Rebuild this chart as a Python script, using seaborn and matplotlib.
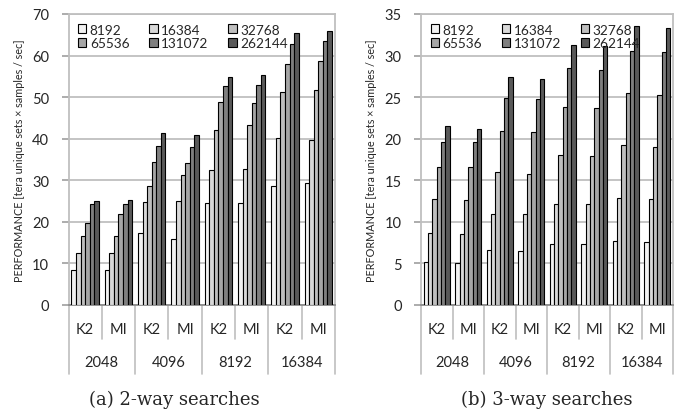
import pandas as pd
import numpy as np
import matplotlib
matplotlib.use('Agg')
import matplotlib.pyplot as plt
import seaborn as sns

# tamanhos (series) e categorias do eixo x
tamanhos = ['8192', '16384', '32768', '65536', '131072', '262144']
anos = ['2048', '4096', '8192', '16384']
metodos = ['K2', 'MI']

# 2-way: valores por serie, ordem 2048 K2, 2048 MI, 4096 K2, ...
v2_8192 = [8.3, 8.3, 17.4, 15.8, 24.5, 24.6, 28.7, 29.4]
v2_16384 = [12.5, 12.5, 24.7, 24.9, 32.4, 32.7, 40.1, 39.8]
v2_32768 = [16.5, 16.7, 28.7, 31.3, 42.1, 43.4, 51.2, 51.7]
v2_65536 = [19.8, 21.9, 34.4, 34.1, 48.9, 48.5, 58.0, 58.6]
v2_131072 = [24.3, 24.3, 38.2, 37.9, 52.7, 53.0, 62.8, 63.4]
v2_262144 = [25.0, 25.2, 41.3, 40.9, 54.9, 55.4, 65.4, 66.0]

# 3-way
v3_8192 = [5.2, 5.1, 6.6, 6.5, 7.3, 7.3, 7.7, 7.6]
v3_16384 = [8.7, 8.5, 10.9, 10.9, 12.1, 12.1, 12.9, 12.7]
v3_32768 = [12.7, 12.6, 16.0, 15.8, 18.0, 17.9, 19.2, 19.0]
v3_65536 = [16.6, 16.6, 20.9, 20.8, 23.8, 23.7, 25.5, 25.3]
v3_131072 = [19.6, 19.6, 24.9, 24.8, 28.5, 28.3, 30.6, 30.4]
v3_262144 = [21.5, 21.2, 27.4, 27.2, 31.3, 31.2, 33.5, 33.3]

cores = ['#f2f2f2', '#d9d9d9', '#bfbfbf', '#a6a6a6', '#7f7f7f', '#595959']

categorias = [a + ' ' + m for a in anos for m in metodos]


def montar_df(series):
    linhas = []
    for tam, vals in zip(tamanhos, series):
        for cat, v in zip(categorias, vals):
            linhas.append({'categoria': cat, 'tamanho': tam, 'valor': v})
    return pd.DataFrame(linhas)


df2 = montar_df([v2_8192, v2_16384, v2_32768, v2_65536, v2_131072, v2_262144])
df3 = montar_df([v3_8192, v3_16384, v3_32768, v3_65536, v3_131072, v3_262144])

sns.set_style('white')
plt.rcParams['font.family'] = ['Lato', 'DejaVu Sans']

fig = plt.figure(figsize=(6.78, 4.10), dpi=100)
ax1 = fig.add_axes([68.5 / 678, 104 / 410, 266.5 / 678, 291 / 410])
ax2 = fig.add_axes([421 / 678, 104 / 410, 252 / 678, 291 / 410])


def desenhar(ax, df, ymax, passo):
    sns.barplot(data=df, x='categoria', y='valor', hue='tamanho',
                order=categorias, hue_order=tamanhos, palette=cores,
                width=0.82, edgecolor='black', linewidth=0.8,
                saturation=1, errorbar=None, ax=ax, zorder=3)
    ax.set_ylim(0, ymax)
    ax.set_xlim(-0.5, len(categorias) - 0.5)
    ax.set_yticks(np.arange(0, ymax + 1, passo))
    ax.yaxis.grid(True, color='#bfbfbf', linewidth=1.3, zorder=0)
    ax.set_axisbelow(True)
    for s in ax.spines.values():
        s.set_color('#bfbfbf')
        s.set_linewidth(1.3)
    ax.spines['bottom'].set_color('#8c8c8c')
    ax.tick_params(axis='y', length=5, color='#a6a6a6', width=1.3,
                   pad=9, labelsize=10.5, left=True)
    ax.tick_params(axis='x', bottom=False, labelbottom=False)
    ax.set_xlabel('')
    ax.set_ylabel('PERFORMANCE [tera unique sets \u00d7 samples / sec]',
                  fontsize=7.8, labelpad=5)

    # tabela de rotulos embaixo do eixo
    trans = ax.get_xaxis_transform()
    for i, cat in enumerate(categorias):
        ax.text(i, -0.082, cat.split(' ')[1], transform=trans,
                ha='center', va='center', fontsize=10.5)
    for j, a in enumerate(anos):
        ax.text(2 * j + 0.5, -0.195, a, transform=trans,
                ha='center', va='center', fontsize=10.5)
    for k in range(len(categorias) + 1):
        x = k - 0.5
        fim = -0.237 if k % 2 == 0 else -0.117
        ax.plot([x, x], [0, fim], transform=trans, color='#bfbfbf',
                linewidth=1.2, clip_on=False)

    # legenda em linhas (3 colunas), reordenando os handles
    handles, labels = ax.get_legend_handles_labels()
    ordem = [0, 3, 1, 4, 2, 5]
    ax.legend([handles[i] for i in ordem], [labels[i] for i in ordem],
              ncol=3, loc='upper left', bbox_to_anchor=(0.0, 1.0),
              frameon=False, fontsize=9.8,
              handlelength=0.62, handleheight=0.62, handletextpad=0.25,
              columnspacing=1.45, labelspacing=0.12, borderaxespad=0.3)


desenhar(ax1, df2, 70, 10)
desenhar(ax2, df3, 35, 5)

fig.text(174 / 678, 1 - 400 / 410, '(a) 2-way searches', ha='center',
         va='center', fontsize=13, family=['DejaVu Serif'])
fig.text(547 / 678, 1 - 400 / 410, '(b) 3-way searches', ha='center',
         va='center', fontsize=13, family=['DejaVu Serif'])

fig.savefig('out.png', dpi=100)
